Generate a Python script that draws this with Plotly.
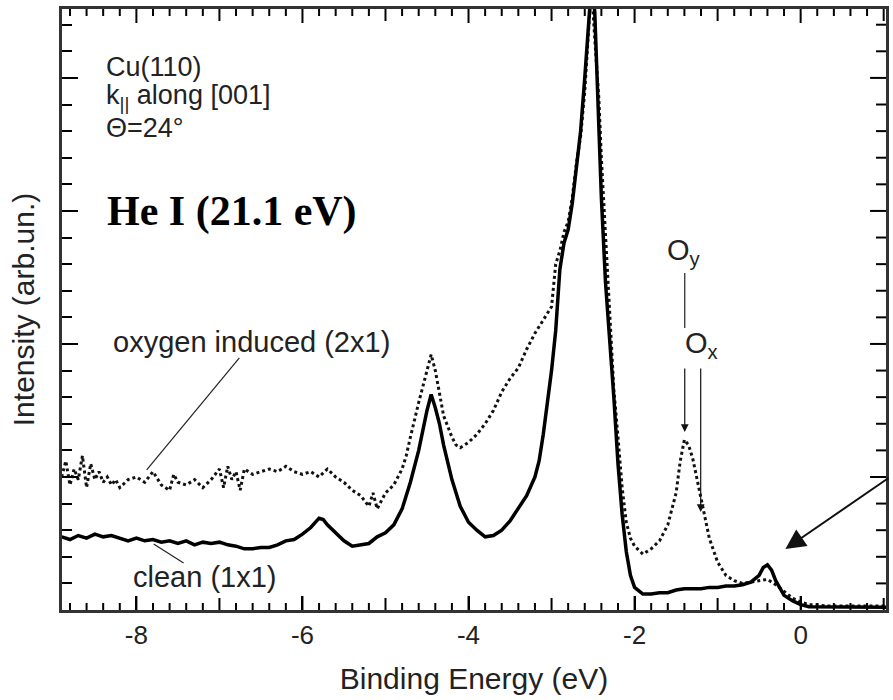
import plotly.graph_objects as go

# ---------------- data ----------------
clean_x = [-8.9, -8.8, -8.7, -8.6, -8.5, -8.4, -8.3, -8.2, -8.1, -8.0,
           -7.9, -7.8, -7.7, -7.6, -7.5, -7.4, -7.3, -7.2, -7.1, -7.0,
           -6.9, -6.8, -6.7, -6.6, -6.5, -6.4, -6.3, -6.2, -6.1, -6.0,
           -5.9, -5.8, -5.75, -5.7, -5.6, -5.5, -5.4, -5.3, -5.2, -5.1,
           -5.0, -4.9, -4.8, -4.7, -4.6, -4.5, -4.45, -4.4, -4.35, -4.3,
           -4.2, -4.1, -4.0, -3.9, -3.8, -3.7, -3.6, -3.5, -3.4, -3.3,
           -3.2, -3.15, -3.1, -3.05, -3.0, -2.95, -2.9, -2.85, -2.8, -2.75,
           -2.7, -2.65, -2.6, -2.55, -2.52, -2.48, -2.45, -2.4, -2.35, -2.3,
           -2.25, -2.2, -2.15, -2.1, -2.05, -2.0, -1.9, -1.8, -1.7, -1.6,
           -1.5, -1.4, -1.3, -1.2, -1.1, -1.0, -0.9, -0.8, -0.7, -0.6,
           -0.5, -0.45, -0.4, -0.35, -0.3, -0.25, -0.2, -0.1, 0.0, 0.1,
           0.2, 0.4, 0.6, 0.8, 1.05]
clean_y = [2.75, 2.65, 2.8, 2.7, 2.85, 2.75, 2.8, 2.7, 2.6, 2.7,
           2.6, 2.65, 2.55, 2.6, 2.5, 2.6, 2.45, 2.55, 2.5, 2.55,
           2.45, 2.4, 2.3, 2.3, 2.35, 2.35, 2.45, 2.6, 2.65, 2.85,
           3.1, 3.45, 3.4, 3.2, 2.9, 2.6, 2.4, 2.45, 2.5, 2.75,
           2.9, 3.2, 3.8, 4.8, 6.0, 7.5, 8.1, 7.6, 7.0, 6.2,
           4.9, 3.9, 3.3, 3.0, 2.75, 2.8, 3.0, 3.35, 3.8, 4.3,
           5.0, 5.6, 6.6, 7.8, 9.0, 10.5, 12.8, 13.8, 14.3, 15.3,
           16.7, 18.0, 20.0, 22.5, 23.5, 22.5, 20.0, 15.5, 12.3, 10.3,
           8.0, 5.5, 3.6, 2.2, 1.3, 0.85, 0.6, 0.6, 0.65, 0.65,
           0.75, 0.8, 0.8, 0.8, 0.85, 0.85, 0.9, 0.9, 0.95, 1.05,
           1.3, 1.6, 1.7, 1.5, 1.1, 0.8, 0.55, 0.35, 0.2, 0.12,
           0.12, 0.1, 0.1, 0.1, 0.1]

oxy_x = [-8.9, -8.85, -8.8, -8.75, -8.7, -8.65, -8.6, -8.55, -8.5, -8.45,
         -8.4, -8.35, -8.3, -8.25, -8.2, -8.1, -8.0, -7.9, -7.8, -7.7,
         -7.6, -7.55, -7.5, -7.4, -7.3, -7.2, -7.1, -7.0, -6.95, -6.9,
         -6.85, -6.8, -6.75, -6.7, -6.6, -6.5, -6.4, -6.3, -6.2, -6.1,
         -6.0, -5.9, -5.8, -5.7, -5.6, -5.5, -5.4, -5.3, -5.2, -5.15,
         -5.1, -5.0, -4.9, -4.8, -4.75, -4.7, -4.65, -4.6, -4.55, -4.5,
         -4.45, -4.4, -4.35, -4.3, -4.2, -4.15, -4.1, -4.0, -3.9, -3.8,
         -3.7, -3.6, -3.5, -3.4, -3.3, -3.2, -3.1, -3.0, -2.95, -2.9,
         -2.85, -2.8, -2.75, -2.7, -2.65, -2.6, -2.55, -2.52, -2.48, -2.43,
         -2.4, -2.35, -2.3, -2.25, -2.2, -2.15, -2.1, -2.05, -2.0, -1.9,
         -1.8, -1.7, -1.6, -1.5, -1.45, -1.4, -1.35, -1.3, -1.2, -1.1,
         -1.0, -0.9, -0.8, -0.7, -0.6, -0.5, -0.4, -0.3, -0.2, -0.1,
         0.0, 0.1, 0.2, 0.3, 0.5, 0.7, 0.9, 1.05]
oxy_y = [5.0, 5.6, 4.7, 5.3, 4.9, 5.8, 4.6, 5.5, 4.9, 5.2,
         4.8, 5.0, 4.7, 4.9, 4.6, 4.9, 5.0, 4.8, 5.2, 4.7,
         4.5, 5.1, 4.8, 4.7, 4.9, 4.6, 4.9, 5.3, 4.6, 5.4,
         4.9, 5.2, 4.5, 5.3, 5.1, 5.2, 5.3, 5.2, 5.4, 5.2,
         5.1, 5.2, 5.0, 5.3, 5.0, 4.8, 4.5, 4.3, 3.9, 4.4,
         3.8, 4.4, 4.7, 5.3, 5.8, 6.5, 7.2, 7.8, 8.4, 9.0,
         9.6, 9.0, 8.2, 7.3, 6.5, 6.2, 6.1, 6.3, 6.6, 7.0,
         7.5, 8.2, 8.7, 9.1, 9.8, 10.4, 10.9, 11.4, 13.0, 13.5,
         14.2, 14.6, 15.5, 16.8, 17.8, 19.5, 22.0, 23.5, 21.5, 19.2,
         17.0, 14.2, 11.0, 8.3, 6.5, 4.6, 3.3, 2.7, 2.4, 2.1,
         2.3, 2.6, 3.2, 4.4, 5.6, 6.4, 6.2, 5.7, 4.2, 2.7,
         1.8, 1.3, 1.1, 1.0, 1.05, 1.1, 1.15, 0.95, 0.7, 0.45,
         0.3, 0.2, 0.2, 0.15, 0.15, 0.15, 0.15, 0.15]

x_tick_vals = [-8, -6, -4, -2, 0]
x_tick_text = ["-8", "-6", "-4", "-2", "0"]

X_RANGE = [-8.896, 1.028]
Y_RANGE = [0, 22.59]

# plot-area size in pixels (893x700 figure minus margins)
PLOT_W = 893 - 62 - 4
PLOT_H = 700 - 9 - 90

# ---------------- pixel -> data helpers for annotations ----------------
def dx(px):
    return (px - 803.3) / 83.33

def dy(py):
    return (610 - py) / 26.6

FONT = "Liberation Sans, Arial, Helvetica, sans-serif"
TXT = dict(family=FONT, size=29, color="#222")
BLOCK = dict(family=FONT, size=27, color="#222")

fig = go.Figure()
fig.add_trace(go.Scatter(x=oxy_x, y=oxy_y, mode="lines", name="oxygen induced (2x1)",
                         line=dict(color="#111", width=3, dash="dot")))
fig.add_trace(go.Scatter(x=clean_x, y=clean_y, mode="lines", name="clean (1x1)",
                         line=dict(color="#000", width=3.5)))

ann = []
def text(s, px, py, anchor="left", font=TXT):
    ann.append(dict(x=dx(px), y=dy(py), xref="x", yref="y", text=s, showarrow=False,
                    xanchor=anchor, yanchor="middle", font=font))

text("Cu(110)", 104, 67, font=BLOCK)
text("k<sub>||</sub> along [001]", 104, 97, font=BLOCK)
text("\u0398=24\u00b0", 104, 128, font=BLOCK)
text("<b>He I (21.1 eV)</b>", 105, 212,
     font=dict(family="Liberation Serif, Times New Roman, serif", size=42, color="#000"))
text("oxygen induced (2x1)", 252, 342, anchor="center")
text("clean (1x1)", 205, 577, anchor="center")
text("O<sub>y</sub>", 686, 252, anchor="center")
text("O<sub>x</sub>", 704, 345, anchor="center")

def arrow(x0, y0, x1, y1, width=1, head=2, size=1.0):
    ann.append(dict(x=dx(x1), y=dy(y1), ax=dx(x0), ay=dy(y0), xref="x", yref="y",
                    axref="x", ayref="y", showarrow=True, arrowhead=head,
                    arrowwidth=width, arrowsize=size, arrowcolor="#111", text=""))

arrow(687, 367, 687, 432, width=1.2, head=2, size=1.3)
arrow(703, 367, 703, 512, width=1.2, head=2, size=1.3)
arrow(893, 477, 788, 549, width=2, head=2, size=2.0)

shapes = []
def seg(x0, y0, x1, y1, w=1.2):
    shapes.append(dict(type="line", xref="x", yref="y", x0=dx(x0), y0=dy(y0),
                       x1=dx(x1), y1=dy(y1), line=dict(color="#222", width=w)))

seg(240, 358, 147, 470)
seg(184, 563, 154, 544)
seg(687, 273, 687, 328)

# ---- frame ticks on bottom / top / right (positions on the axis scale, lengths in paper units) ----
TICK_LINE = dict(color="#000", width=2)
for i in range(50):
    v = round(-8.8 + 0.2 * i, 1)
    if abs(v - round(v)) < 1e-9:
        ln = 14 if int(round(v)) % 2 == 0 else 12
    else:
        ln = 7
    f = ln / PLOT_H
    shapes.append(dict(type="line", xref="x", yref="paper", x0=v, x1=v, y0=0, y1=f,
                       line=TICK_LINE))
    shapes.append(dict(type="line", xref="x", yref="paper", x0=v, x1=v, y0=1, y1=1 - f,
                       line=TICK_LINE))
for v in range(1, 23):
    ln = 16 if v % 5 == 0 else 10
    shapes.append(dict(type="line", xref="paper", yref="y", x0=1, x1=1 - ln / PLOT_W,
                       y0=v, y1=v, line=TICK_LINE))

YMINOR = dict(dtick=1, tick0=0, ticklen=10, tickwidth=2, ticks="inside",
              tickcolor="#000", showgrid=False)

fig.update_layout(
    width=893, height=700,
    margin=dict(l=62, r=4, t=9, b=90),
    paper_bgcolor="white", plot_bgcolor="white",
    showlegend=False,
    annotations=ann, shapes=shapes,
    xaxis=dict(range=X_RANGE, tickvals=x_tick_vals, ticktext=x_tick_text,
               ticks="inside", ticklen=14, tickwidth=2, tickcolor="#000",
               tickfont=dict(family=FONT, size=26, color="#222"),
               showline=True, linecolor="#333", linewidth=2.5, mirror=True,
               showgrid=False, zeroline=False,
               title=dict(text="Binding Energy (eV)", standoff=20,
                          font=dict(family=FONT, size=30, color="#222"))),
    yaxis=dict(range=Y_RANGE, tickmode="linear", tick0=0, dtick=5,
               ticks="inside", ticklen=16, tickwidth=2, tickcolor="#000",
               showticklabels=False, minor=YMINOR,
               showline=True, linecolor="#333", linewidth=2.5, mirror=True,
               showgrid=False, zeroline=False,
               title=dict(text="Intensity (arb.un.)", standoff=16,
                          font=dict(family=FONT, size=30, color="#222"))),
)

fig.write_html("out.html")
